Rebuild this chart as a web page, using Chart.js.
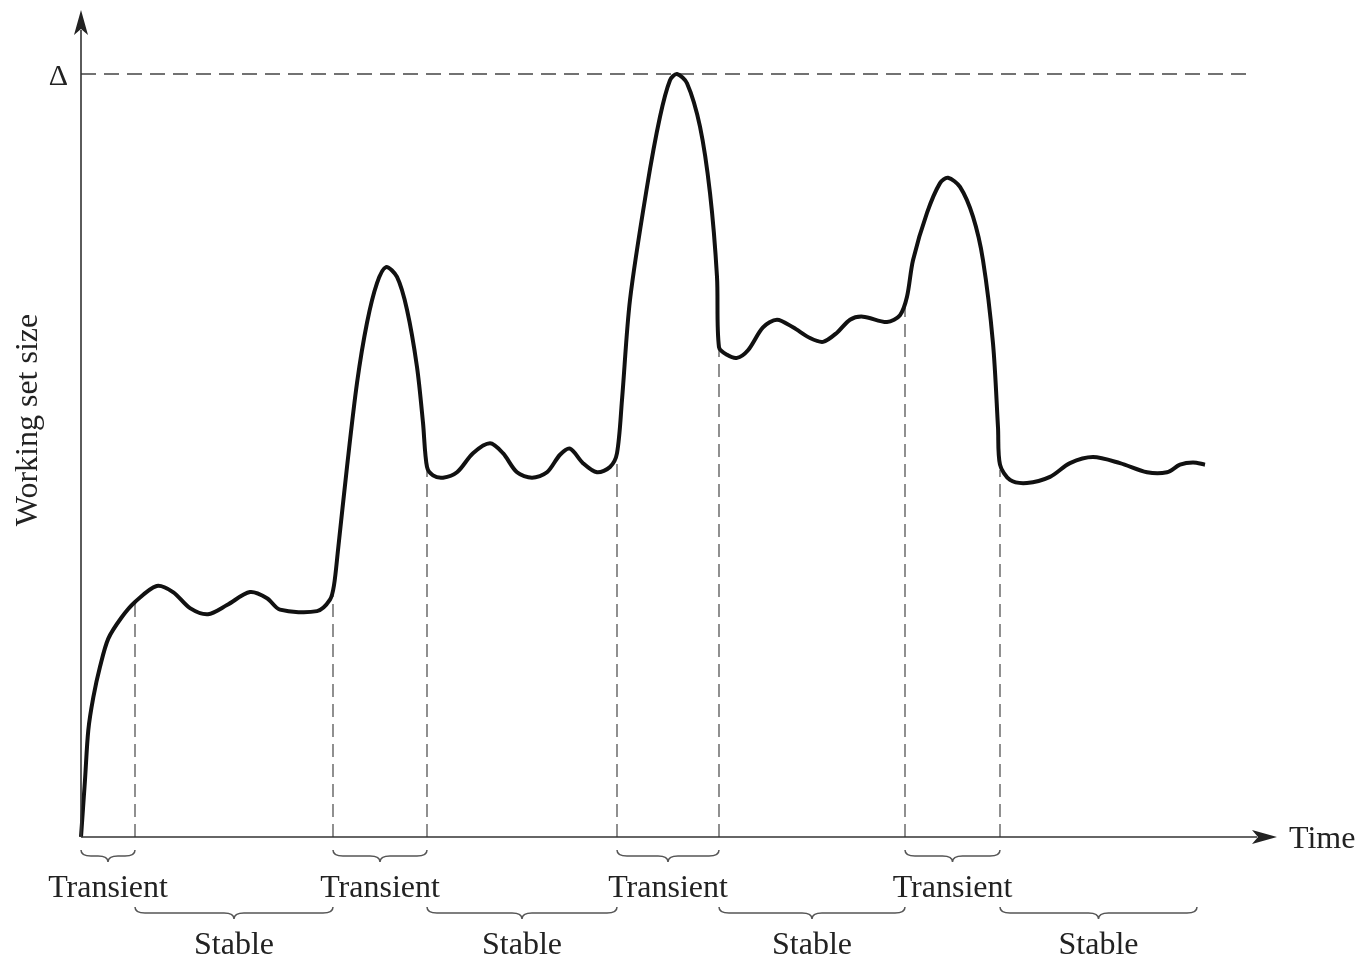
<!DOCTYPE html>
<html lang="en">
<head>
  <meta charset="UTF-8">
  <title>Working set size</title>
  <script src="https://cdn.jsdelivr.net/npm/chart.js"></script>
  <style>
    html, body { margin: 0; padding: 0; background: #fff; }
    #box { width: 1359px; height: 957px; }
  </style>
</head>
<body>
  <div id="box"><canvas id="grafico"></canvas></div>
<script>
// curve (time, working set size with delta = 100)
const tempo = [0, 4, 7.3, 12.3, 19, 27.3, 40.7, 54, 75.7, 92, 109, 127, 146, 169, 186, 199, 236, 249, 253, 257,
  266, 276, 286, 296, 305, 316, 326, 336, 342, 346, 352, 362, 376, 392, 409, 422, 436, 451, 466, 479, 489, 502, 516, 529, 536,
  541, 549, 566, 579, 589, 596, 606, 619, 629, 636, 638, 646, 656, 667, 682, 696, 712, 729, 742, 756, 769, 782, 806, 819,
  826, 832, 846, 859, 867, 879, 892, 902, 912, 917, 919, 929, 946, 969, 989, 1012, 1039, 1066, 1086, 1099, 1112, 1124];
const tamanho = [0, 7.5, 14.0, 18.3, 22.3, 26.0, 28.8, 30.8, 32.9, 32.1, 30.0, 29.2, 30.4, 32.1, 31.3, 29.8, 29.6, 31.1, 33.0, 37.6,
  48.5, 59.5, 67.4, 72.6, 74.7, 73.4, 69.1, 61.6, 54.3, 48.5, 47.4, 47.1, 47.8, 50.3, 51.6, 50.3, 47.8, 47.1, 47.8, 50.1, 50.9, 49.0, 47.8, 48.5, 50.3,
  57.3, 70.4, 85.2, 94.4, 99.2, 100, 98.8, 93.1, 84.4, 73.4, 64.2, 63.2, 62.8, 63.8, 66.8, 67.8, 66.8, 65.4, 64.9, 66.1, 67.8, 68.2, 67.5, 68.4,
  70.8, 75.6, 81.8, 85.7, 86.4, 85.2, 81.3, 75.6, 64.7, 53.7, 48.8, 46.8, 46.4, 47.2, 49.0, 49.8, 49.0, 47.8, 47.8, 48.8, 49.1, 48.8];

// phase boundaries (dashed verticals) and where they meet the curve
const limites = [54, 252, 346, 536, 638, 824, 919];
const limitesTopo = [30.8, 32.0, 48.1, 50.1, 63.8, 70.0, 48.1];

const delta = 100;
const deltaFim = 1169;

const faixasTransient = [[0, 54], [252, 346], [536, 638], [824, 919]];
const faixasStable = [[54, 252], [346, 536], [638, 824], [919, 1116]];

const xMax = 1196;
const yMax = 108;

const corTexto = '#222';
const fonte = 'Liberation Serif, Times New Roman, serif';

// datasets
let conjuntos = [{
  data: tempo.map((t, i) => ({ x: t, y: tamanho[i] })),
  borderColor: '#111',
  borderWidth: 4,
  pointRadius: 0,
  fill: false,
  tension: 0.3,
  clip: false
}, {
  data: [{ x: 0, y: delta }, { x: deltaFim, y: delta }],
  borderColor: '#444',
  borderWidth: 1.5,
  borderDash: [15, 8],
  pointRadius: 0,
  clip: false
}];

for (let i = 0; i < limites.length; i++) {
  conjuntos.push({
    data: [{ x: limites[i], y: 0 }, { x: limites[i], y: limitesTopo[i] }],
    borderColor: '#555',
    borderWidth: 1.3,
    borderDash: [13, 7],
    pointRadius: 0,
    clip: false
  });
}

function chave(ctx, x1, x2, y0, h, r) {
  const meio = (x1 + x2) / 2;
  ctx.beginPath();
  ctx.moveTo(x1, y0);
  ctx.quadraticCurveTo(x1, y0 + h, x1 + r, y0 + h);
  ctx.lineTo(meio - r, y0 + h);
  ctx.quadraticCurveTo(meio, y0 + h, meio, y0 + 2 * h);
  ctx.quadraticCurveTo(meio, y0 + h, meio + r, y0 + h);
  ctx.lineTo(x2 - r, y0 + h);
  ctx.quadraticCurveTo(x2, y0 + h, x2, y0);
  ctx.stroke();
}

// axes with arrows, braces and labels
const desenhoExtra = {
  id: 'desenhoExtra',
  afterDatasetsDraw(chart) {
    const ctx = chart.ctx;
    const sx = chart.scales.x;
    const sy = chart.scales.y;
    const x0 = sx.getPixelForValue(0);
    const y0 = sy.getPixelForValue(0);
    const xFim = sx.getPixelForValue(xMax);
    const yFim = sy.getPixelForValue(yMax) - 3;

    ctx.save();
    ctx.strokeStyle = '#333';
    ctx.fillStyle = '#222';
    ctx.lineWidth = 1.6;

    // y axis
    ctx.beginPath();
    ctx.moveTo(x0, y0);
    ctx.lineTo(x0, yFim + 20);
    ctx.stroke();
    ctx.beginPath();
    ctx.moveTo(x0, yFim);
    ctx.lineTo(x0 + 7, yFim + 25);
    ctx.lineTo(x0, yFim + 19);
    ctx.lineTo(x0 - 7, yFim + 25);
    ctx.closePath();
    ctx.fill();

    // x axis
    ctx.beginPath();
    ctx.moveTo(x0, y0);
    ctx.lineTo(xFim - 20, y0);
    ctx.stroke();
    ctx.beginPath();
    ctx.moveTo(xFim, y0);
    ctx.lineTo(xFim - 25, y0 - 7);
    ctx.lineTo(xFim - 19, y0);
    ctx.lineTo(xFim - 25, y0 + 7);
    ctx.closePath();
    ctx.fill();

    // braces
    ctx.strokeStyle = '#555';
    ctx.lineWidth = 1.5;
    faixasTransient.forEach(f => {
      chave(ctx, sx.getPixelForValue(f[0]), sx.getPixelForValue(f[1]), y0 + 13, 6, 10);
    });
    faixasStable.forEach(f => {
      chave(ctx, sx.getPixelForValue(f[0]), sx.getPixelForValue(f[1]), y0 + 70, 6, 10);
    });

    // texts
    ctx.fillStyle = corTexto;
    ctx.textAlign = 'center';
    ctx.textBaseline = 'alphabetic';
    ctx.font = '32px ' + fonte;
    faixasTransient.forEach(f => {
      const m = sx.getPixelForValue((f[0] + f[1]) / 2);
      ctx.fillText('Transient', m, y0 + 60);
    });
    faixasStable.forEach(f => {
      const m = sx.getPixelForValue((f[0] + f[1]) / 2);
      ctx.fillText('Stable', m, y0 + 117);
    });

    ctx.textAlign = 'left';
    ctx.fillText('Time', xFim + 12, y0 + 11);

    ctx.textAlign = 'right';
    ctx.font = '30px ' + fonte;
    ctx.fillText('\u0394', x0 - 13, sy.getPixelForValue(delta) + 11);

    ctx.save();
    ctx.translate(37, 420);
    ctx.rotate(-Math.PI / 2);
    ctx.textAlign = 'center';
    ctx.font = '32px ' + fonte;
    ctx.fillText('Working set size', 0, 0);
    ctx.restore();

    ctx.restore();
  }
};

new Chart(document.getElementById('grafico'), {
  type: 'line',
  data: { datasets: conjuntos },
  options: {
    responsive: true,
    maintainAspectRatio: false,
    animation: false,
    layout: { padding: { left: 81, right: 82, top: 13, bottom: 120 } },
    plugins: { legend: { display: false }, tooltip: { enabled: false } },
    scales: {
      x: { type: 'linear', min: 0, max: xMax, display: false },
      y: { type: 'linear', min: 0, max: yMax, display: false }
    }
  },
  plugins: [desenhoExtra]
});
</script>
</body>
</html>
